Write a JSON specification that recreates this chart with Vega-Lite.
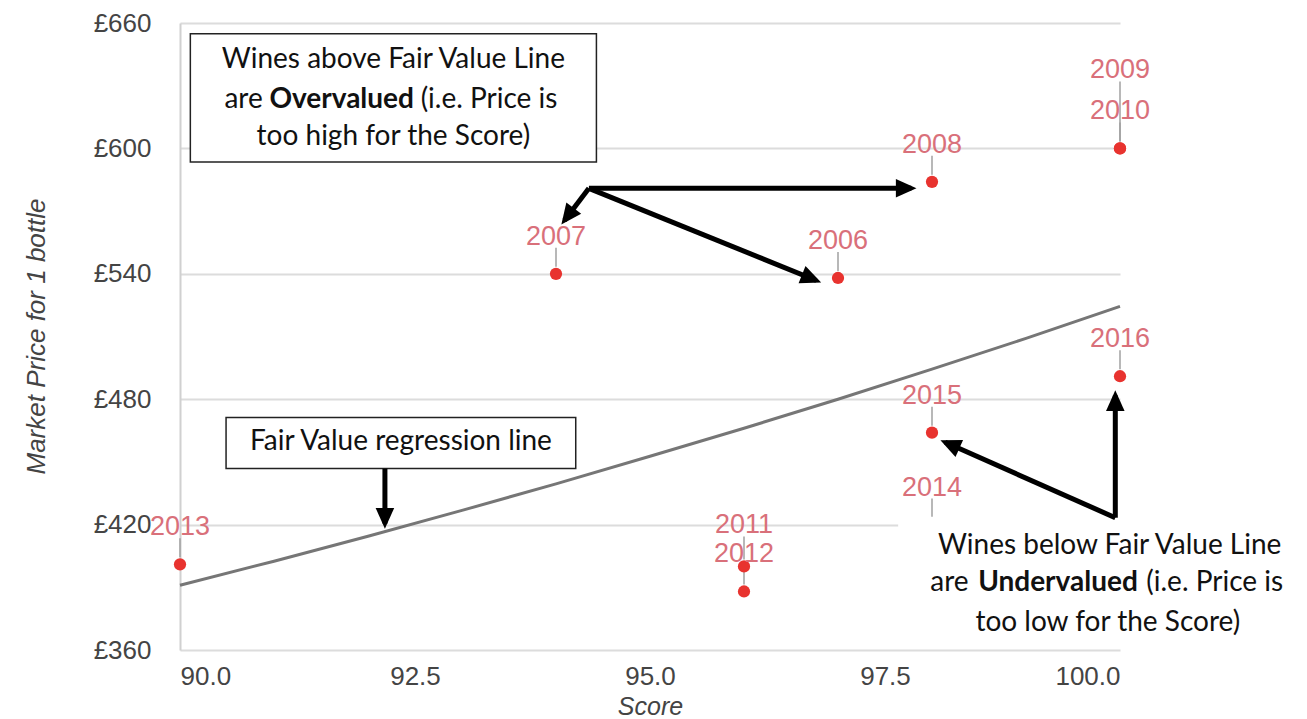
{
  "$schema": "https://vega.github.io/schema/vega-lite/v6.json",
  "width": 940,
  "height": 627,
  "autosize": "none",
  "padding": {"left": 180, "top": 23, "right": 187, "bottom": 69},
  "background": "white",
  "config": {"view": {"stroke": null}, "font": "Liberation Sans"},
  "datasets": {
    "wines": [
      {"year": "2006", "score": 97, "price": 538},
      {"year": "2007", "score": 94, "price": 540},
      {"year": "2008", "score": 98, "price": 584},
      {"year": "2009", "score": 100, "price": 600},
      {"year": "2010", "score": 100, "price": 600},
      {"year": "2011", "score": 96, "price": 400},
      {"year": "2012", "score": 96, "price": 388},
      {"year": "2013", "score": 90, "price": 401},
      {"year": "2014", "score": 98, "price": 420},
      {"year": "2015", "score": 98, "price": 464},
      {"year": "2016", "score": 100, "price": 491}
    ],
    "fair": [
      {"score": 90, "price": 391},
      {"score": 91, "price": 402.5},
      {"score": 92, "price": 414.4},
      {"score": 93, "price": 426.8},
      {"score": 94, "price": 439.5},
      {"score": 95, "price": 452.7},
      {"score": 96, "price": 466.1},
      {"score": 97, "price": 480},
      {"score": 98, "price": 494.4},
      {"score": 99, "price": 509.1},
      {"score": 100, "price": 524.4}
    ],
    "framed": [
      {"x": 90.11, "x2": 94.43, "y": 654.9, "y2": 593.5},
      {"x": 90.49, "x2": 94.21, "y": 471.2, "y2": 446.8}
    ],
    "plain": [
      {"x": 97.64, "x2": 102.5, "y": 423.7, "y2": 363.5}
    ],
    "notesCenter": [
      {"text": "Wines above Fair Value Line", "x": 92.27, "y": 642.1},
      {"text": "too high for the Score)", "x": 92.27, "y": 605.3},
      {"text": "Fair Value regression line", "x": 92.35, "y": 459.3},
      {"text": "Wines below Fair Value Line", "x": 99.89, "y": 410.0},
      {"text": "too low for the Score)", "x": 99.87, "y": 373.1}
    ],
    "notesRight": [
      {"text": "are", "x": 90.88, "y": 623.3},
      {"text": "are", "x": 98.39, "y": 392.2}
    ],
    "notesBold": [
      {"text": "Overvalued", "x": 91.72, "y": 623.3},
      {"text": "Undervalued", "x": 99.34, "y": 392.2}
    ],
    "notesLeft": [
      {"text": "(i.e. Price is", "x": 92.56, "y": 623.3},
      {"text": "(i.e. Price is", "x": 100.28, "y": 392.2}
    ],
    "arrows": [
      {"x": 94.35, "y": 580.9, "tx": 94.09, "ty": 565.5, "heading": 217},
      {"x": 94.35, "y": 580.9, "tx": 97.78, "ty": 580.9, "heading": 90},
      {"x": 94.35, "y": 580.9, "tx": 96.77, "ty": 536.8, "heading": 112},
      {"x": 92.18, "y": 446.8, "tx": 92.18, "ty": 420.5, "heading": 180},
      {"x": 99.95, "y": 423.3, "tx": 99.95, "ty": 481.8, "heading": 0},
      {"x": 99.95, "y": 423.3, "tx": 98.14, "ty": 459.4, "heading": 294}
    ]
  },
  "layer": [
    {
      "data": {"name": "fair"},
      "mark": {"type": "line", "color": "#767676", "strokeWidth": 3},
      "encoding": {
        "x": {
          "field": "score", "type": "quantitative",
          "scale": {"domain": [90, 100], "nice": false, "zero": false},
          "axis": {
            "values": [90, 92.5, 95, 97.5, 100], "format": ".1f",
            "grid": false, "ticks": false, "domain": false,
            "labelFont": "Liberation Sans", "labelFontSize": 26, "labelColor": "#444444", "labelPadding": 13,
            "title": "Score", "titleFont": "Liberation Sans", "titleFontSize": 25, "titleFontStyle": "italic",
            "titleFontWeight": "normal", "titleColor": "#444444", "titleX": 470, "titleY": 64,
            "titleBaseline": "alphabetic", "titleAlign": "center"
          }
        },
        "y": {
          "field": "price", "type": "quantitative",
          "scale": {"domain": [360, 660], "nice": false, "zero": false},
          "axis": {
            "values": [360, 420, 480, 540, 600, 660], "labelExpr": "'£' + datum.value",
            "grid": true, "gridColor": "#dcdcdc", "gridWidth": 2,
            "ticks": false, "domain": true, "domainColor": "#d0d0d0", "domainWidth": 2,
            "labelFont": "Liberation Sans", "labelFontSize": 26, "labelColor": "#444444", "labelPadding": 29,
            "title": "Market Price for 1 bottle", "titleFont": "Liberation Sans", "titleFontSize": 26,
            "titleFontStyle": "italic", "titleFontWeight": "normal", "titleColor": "#444444",
            "titleAngle": -90, "titleX": -136, "titleY": 313, "titleBaseline": "alphabetic", "titleAlign": "center"
          }
        }
      }
    },
    {
      "data": {"name": "wines"},
      "transform": [{"filter": "datum.year != '2009' && datum.year != '2011'"}],
      "mark": {"type": "rule", "color": "#a0a0a0", "strokeWidth": 1.5, "yOffset": -7, "y2Offset": -26},
      "encoding": {
        "x": {"field": "score", "type": "quantitative"},
        "y": {"field": "price", "type": "quantitative"},
        "y2": {"field": "price"}
      }
    },
    {
      "data": {"name": "wines"},
      "transform": [{"filter": "datum.year == '2011'"}],
      "mark": {"type": "rule", "color": "#a0a0a0", "strokeWidth": 1.5, "yOffset": -7, "y2Offset": -30},
      "encoding": {
        "x": {"field": "score", "type": "quantitative"},
        "y": {"field": "price", "type": "quantitative"},
        "y2": {"field": "price"}
      }
    },
    {
      "data": {"name": "wines"},
      "transform": [{"filter": "datum.year == '2009'"}],
      "mark": {"type": "rule", "color": "#a0a0a0", "strokeWidth": 1.5, "yOffset": -7, "y2Offset": -67},
      "encoding": {
        "x": {"field": "score", "type": "quantitative"},
        "y": {"field": "price", "type": "quantitative"},
        "y2": {"field": "price"}
      }
    },
    {
      "data": {"name": "wines"},
      "mark": {"type": "point", "shape": "circle", "filled": true, "size": 150, "color": "#e8332f", "opacity": 1},
      "encoding": {
        "x": {"field": "score", "type": "quantitative"},
        "y": {"field": "price", "type": "quantitative"}
      }
    },
    {
      "data": {"name": "wines"},
      "transform": [{"filter": "datum.year != '2009' && datum.year != '2011'"}],
      "mark": {"type": "text", "baseline": "alphabetic", "align": "center", "dy": -29, "fontSize": 27, "font": "Liberation Sans", "color": "#d9707a"},
      "encoding": {
        "x": {"field": "score", "type": "quantitative"},
        "y": {"field": "price", "type": "quantitative"},
        "text": {"field": "year"}
      }
    },
    {
      "data": {"name": "wines"},
      "transform": [{"filter": "datum.year == '2011'"}],
      "mark": {"type": "text", "baseline": "alphabetic", "align": "center", "dy": -33, "fontSize": 27, "font": "Liberation Sans", "color": "#d9707a"},
      "encoding": {
        "x": {"field": "score", "type": "quantitative"},
        "y": {"field": "price", "type": "quantitative"},
        "text": {"field": "year"}
      }
    },
    {
      "data": {"name": "wines"},
      "transform": [{"filter": "datum.year == '2009'"}],
      "mark": {"type": "text", "baseline": "alphabetic", "align": "center", "dy": -70, "fontSize": 27, "font": "Liberation Sans", "color": "#d9707a"},
      "encoding": {
        "x": {"field": "score", "type": "quantitative"},
        "y": {"field": "price", "type": "quantitative"},
        "text": {"field": "year"}
      }
    },
    {
      "data": {"name": "framed"},
      "mark": {"type": "rect", "fill": "white", "stroke": "#222222", "strokeWidth": 1.5},
      "encoding": {
        "x": {"field": "x", "type": "quantitative"},
        "x2": {"field": "x2"},
        "y": {"field": "y", "type": "quantitative"},
        "y2": {"field": "y2"}
      }
    },
    {
      "data": {"name": "plain"},
      "mark": {"type": "rect", "fill": "white", "stroke": null},
      "encoding": {
        "x": {"field": "x", "type": "quantitative"},
        "x2": {"field": "x2"},
        "y": {"field": "y", "type": "quantitative"},
        "y2": {"field": "y2"}
      }
    },
    {
      "data": {"name": "notesCenter"},
      "mark": {"type": "text", "align": "center", "baseline": "middle", "font": "Lato", "fontSize": 28, "color": "#111111"},
      "encoding": {
        "x": {"field": "x", "type": "quantitative"},
        "y": {"field": "y", "type": "quantitative"},
        "text": {"field": "text"}
      }
    },
    {
      "data": {"name": "notesRight"},
      "mark": {"type": "text", "align": "right", "baseline": "middle", "font": "Lato", "fontSize": 28, "color": "#111111"},
      "encoding": {
        "x": {"field": "x", "type": "quantitative"},
        "y": {"field": "y", "type": "quantitative"},
        "text": {"field": "text"}
      }
    },
    {
      "data": {"name": "notesBold"},
      "mark": {"type": "text", "align": "center", "baseline": "middle", "font": "Lato", "fontSize": 28, "fontWeight": "bold", "color": "#111111"},
      "encoding": {
        "x": {"field": "x", "type": "quantitative"},
        "y": {"field": "y", "type": "quantitative"},
        "text": {"field": "text"}
      }
    },
    {
      "data": {"name": "notesLeft"},
      "mark": {"type": "text", "align": "left", "baseline": "middle", "font": "Lato", "fontSize": 28, "color": "#111111"},
      "encoding": {
        "x": {"field": "x", "type": "quantitative"},
        "y": {"field": "y", "type": "quantitative"},
        "text": {"field": "text"}
      }
    },
    {
      "data": {"name": "arrows"},
      "mark": {"type": "rule", "color": "black", "strokeWidth": 5},
      "encoding": {
        "x": {"field": "x", "type": "quantitative"},
        "y": {"field": "y", "type": "quantitative"},
        "x2": {"field": "tx"},
        "y2": {"field": "ty"}
      }
    },
    {
      "data": {"name": "arrows"},
      "mark": {"type": "point", "shape": "M0,-0.25L0.45,0.75L-0.45,0.75Z", "filled": true, "color": "black", "opacity": 1, "size": 1700},
      "encoding": {
        "x": {"field": "tx", "type": "quantitative"},
        "y": {"field": "ty", "type": "quantitative"},
        "angle": {"field": "heading", "type": "quantitative", "scale": null}
      }
    }
  ]
}
